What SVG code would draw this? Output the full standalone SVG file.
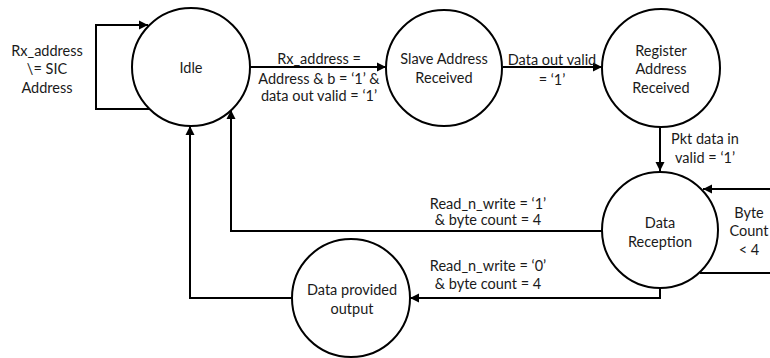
<svg xmlns="http://www.w3.org/2000/svg" width="770" height="358" viewBox="0 0 770 358">
  <defs>
    <marker id="arrow" viewBox="0 0 10 10" refX="10" refY="5" markerWidth="9" markerHeight="10" markerUnits="userSpaceOnUse" orient="auto">
      <path d="M0,0 L10,5 L0,10 Z" fill="#000"/>
    </marker>
    <style>
      .state { fill: #fff; stroke: #000; stroke-width: 2; }
      .wire { fill: none; stroke: #000; stroke-width: 2; marker-end: url(#arrow); }
      text { font-family: Lato, "Liberation Sans", sans-serif; font-size: 14.5px; fill: #1a1a1a; text-anchor: middle; dominant-baseline: central; }
    </style>
  </defs>
  <rect width="770" height="358" fill="#fff"/>

  <!-- transitions -->
  <g id="connectors">
    <path class="wire" d="M151,109 H96 V25 H148"/>
    <path class="wire" d="M250,67 H386"/>
    <path class="wire" d="M503,67 H602"/>
    <path class="wire" d="M660,127 V171"/>
    <path class="wire" d="M700,273 H780 V189 H703"/>
    <path class="wire" d="M602,231 H231 V110"/>
    <path class="wire" d="M660,288 V298 H410"/>
    <path class="wire" d="M292,298 H190 V126"/>
  </g>

  <!-- transition labels -->
  <g id="labels">
    <text x="47" y="50">Rx_address</text>
    <text x="47" y="68">\= SIC</text>
    <text x="47" y="87">Address</text>

    <text x="319" y="58">Rx_address =</text>
    <text x="319" y="78">Address &amp; b = ‘1’ &amp;</text>
    <text x="319" y="95">data out valid = ‘1’</text>

    <text x="552" y="59">Data out valid</text>
    <text x="552" y="79">= ‘1’</text>

    <text x="705" y="138">Pkt data in</text>
    <text x="705" y="157">valid = ‘1’</text>

    <text x="749" y="212">Byte</text>
    <text x="749" y="230">Count</text>
    <text x="749" y="249">&lt; 4</text>

    <text x="488" y="203">Read_n_write = ‘1’</text>
    <text x="488" y="219">&amp; byte count = 4</text>

    <text x="488" y="265">Read_n_write = ‘0’</text>
    <text x="488" y="283">&amp; byte count = 4</text>
  </g>

  <g id="idle">
    <circle class="state" cx="191" cy="67" r="59"/>
    <text x="191" y="67">Idle</text>
  </g>

  <g id="slave-address-received">
    <circle class="state" cx="444" cy="68" r="58"/>
    <text x="444" y="58">Slave Address</text>
    <text x="444" y="77">Received</text>
  </g>

  <g id="register-address-received">
    <circle class="state" cx="661" cy="68" r="59"/>
    <text x="661" y="50">Register</text>
    <text x="661" y="68">Address</text>
    <text x="661" y="87">Received</text>
  </g>

  <g id="data-reception">
    <circle class="state" cx="660" cy="230" r="58"/>
    <text x="660" y="222">Data</text>
    <text x="660" y="241">Reception</text>
  </g>

  <g id="data-provided-output">
    <circle class="state" cx="351" cy="298" r="59"/>
    <text x="352" y="289">Data provided</text>
    <text x="352" y="308">output</text>
  </g>
</svg>
